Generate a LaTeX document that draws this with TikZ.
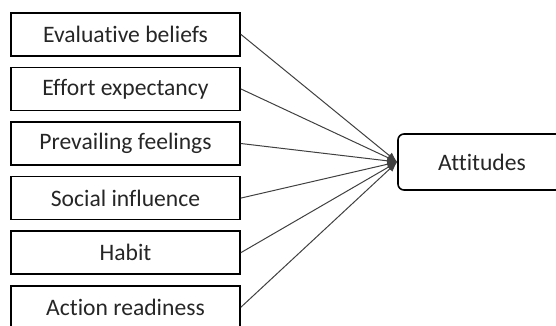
\documentclass[tikz,border=0pt]{standalone}
\usepackage{fontspec}
\setmainfont{Carlito}[Ligatures=NoCommon]
\usetikzlibrary{positioning, arrows.meta}
\tikzset{
    factor/.style={draw, line width=0.8pt, minimum width=114.5pt, minimum height=21.5pt, inner sep=0pt, text=black!85, font=\fontsize{11.8}{14}\selectfont},
    outcome/.style={draw, line width=0.8pt, rounded corners=3pt, minimum width=84pt, minimum height=28pt, inner sep=0pt, text=black!85, font=\fontsize{11.8}{14}\selectfont},
    link/.style={draw=black!75, line width=0.5pt, -{Latex[length=5pt, width=3.8pt]}}
}
\begin{document}
\begin{tikzpicture}[x=0.5pt, y=0.5pt]
    \clip (0,0) rectangle (556,-326);
    \node[factor] (eval) at (125.5,-34.3) {Evaluative beliefs};
    \node[factor, below=5pt of eval] (effort) {Effort expectancy};
    \node[factor, below=5pt of effort] (feel) {Prevailing feelings};
    \node[factor, below=5pt of feel] (social) {Social influence};
    \node[factor, below=5pt of social] (habit) {Habit};
    \node[factor, below=5pt of habit] (ready) {Action readiness};
    \node[outcome] (att) at (482,-162) {Attitudes};
    \foreach \f in {eval, effort, feel, social, habit, ready}
        \draw[link] (\f.east) -- (att.west);
\end{tikzpicture}
\end{document}
